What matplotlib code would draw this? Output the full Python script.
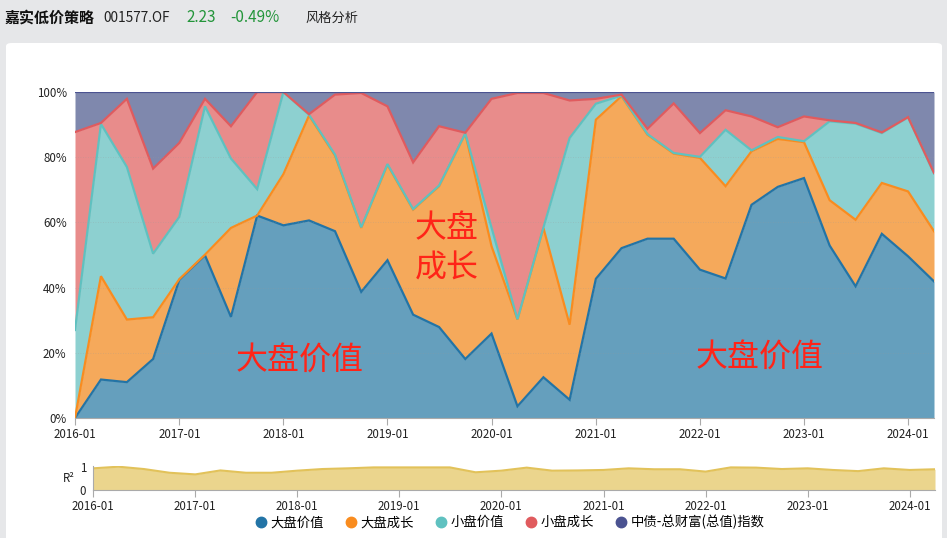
import numpy as np
import pandas as pd
import matplotlib
matplotlib.use("Agg")
import matplotlib.pyplot as plt
import matplotlib.dates as mdates
from matplotlib.lines import Line2D
from matplotlib.patches import FancyBboxPatch

plt.rcParams["font.family"] = ["Noto Sans CJK SC", "DejaVu Sans"]

# ---- data (quarterly style weights, %) ----
dates = pd.date_range("2016-01-01", periods=34, freq="QS")
series_names = ["大盘价值", "大盘成长", "小盘价值", "小盘成长", "中债-总财富(总值)指数"]

large_value = [0.0, 11.8, 11.0, 18.1, 42.4, 49.9, 31.0, 62.1, 59.1, 60.6, 57.3, 38.7,
               48.4, 31.7, 27.9, 18.1, 25.9, 3.6, 12.5, 5.6, 42.7, 52.1, 55.0, 55.0,
               45.5, 42.8, 65.4, 70.9, 73.6, 52.9, 40.4, 56.5, 49.6, 41.9]
large_growth = [0.0, 31.7, 19.2, 12.8, 0.2, 0.2, 27.3, 0.0, 15.7, 32.2, 23.2, 19.6,
                29.3, 32.2, 43.2, 69.1, 26.8, 26.6, 45.8, 23.0, 48.8, 46.6, 31.9, 26.1,
                34.3, 28.3, 16.4, 14.7, 11.0, 13.9, 20.4, 15.6, 19.9, 15.4]
small_value = [27.0, 46.7, 46.8, 19.5, 19.1, 45.5, 21.3, 8.1, 25.2, 0.2, 0.3, 0.2,
               0.2, 0.2, 0.2, 0.1, 5.7, 0.1, 0.1, 57.3, 4.9, 0.2, 0.2, 0.2,
               0.3, 17.3, 0.3, 0.6, 0.3, 24.2, 29.5, 15.3, 22.7, 17.7]
small_growth = [60.7, 0.3, 20.9, 26.1, 22.7, 2.3, 9.9, 29.8, 0.0, 0.2, 18.4, 41.2,
                17.7, 14.3, 18.2, 0.2, 39.5, 69.4, 41.3, 11.5, 1.5, 0.3, 1.6, 15.2,
                7.3, 6.0, 10.4, 3.0, 7.6, 0.3, 0.2, 0.2, 0.1, 0.2]
bond_index = [12.3, 9.5, 2.1, 23.5, 15.6, 2.1, 10.5, 0.0, 0.0, 6.8, 0.8, 0.3,
              4.4, 21.6, 10.5, 12.5, 2.1, 0.3, 0.3, 2.6, 2.1, 0.8, 11.3, 3.5,
              12.6, 5.6, 7.5, 10.8, 7.5, 8.7, 9.5, 12.4, 7.7, 24.8]

r_squared = [0.93, 1.00, 0.90, 0.74, 0.67, 0.84, 0.74, 0.74, 0.83, 0.90, 0.93, 0.97,
             0.97, 0.97, 0.97, 0.76, 0.83, 0.96, 0.83, 0.84, 0.86, 0.93, 0.89, 0.89,
             0.79, 0.97, 0.96, 0.90, 0.93, 0.86, 0.81, 0.93, 0.86, 0.89]

line_colors = ["#2374a6", "#f98c1f", "#5fc1c0", "#e05b5e", "#4b5391"]
fill_colors = ["#659fbd", "#f5a95b", "#8dd0d0", "#e88c8b", "#7f88ad"]

W, H = 947, 538
fig = plt.figure(figsize=(W / 100, H / 100), dpi=100)
fig.patch.set_facecolor("#e6e7e9")


def fx(x):
    return x / W


def fy(y):
    return 1 - y / H


# white card (behind the axes)
fig.patches.append(FancyBboxPatch((fx(6), fy(545)), fx(936), (545 - 43) / H,
                                  boxstyle="round,pad=0,rounding_size=0.006",
                                  transform=fig.transFigure, facecolor="white",
                                  edgecolor="none", zorder=-5))

# header
fig.text(fx(5), fy(18), "嘉实低价策略", fontsize=10.8, fontweight="bold",
         va="center", ha="left", color="#111111")
fig.text(fx(103), fy(18), "001577.OF", fontsize=9.8, va="center", ha="left", color="#222222")
fig.text(fx(186), fy(18), "2.23", fontsize=11, va="center", ha="left", color="#23953a")
fig.text(fx(230), fy(18), "-0.49%", fontsize=11, va="center", ha="left", color="#23953a")
fig.text(fx(305), fy(18), "风格分析", fontsize=9.5, va="center", ha="left", color="#222222")

# ---- main stacked area ----
ax = fig.add_axes([fx(75), fy(418), fx(934) - fx(75), (418 - 92) / H])
ax.set_zorder(2)
values = np.array([large_value, large_growth, small_value, small_growth, bond_index])
cum = np.cumsum(values, axis=0)
lower = np.zeros(len(dates))
for i in range(len(series_names)):
    ax.fill_between(dates, lower, cum[i], color=fill_colors[i], lw=0, zorder=1 + i)
    lower = cum[i]
for i in range(len(series_names)):
    ax.plot(dates, cum[i], color=line_colors[i], lw=1.6, zorder=10 + i,
            solid_joinstyle="miter")

ax.set_xlim(dates[0], dates[-1])
ax.set_ylim(0, 100)
ax.set_yticks([0, 20, 40, 60, 80, 100])
ax.set_yticklabels([f"{v}%" for v in range(0, 101, 20)])
for yv in [20, 40, 60, 80]:
    ax.axhline(yv, color="#999999", lw=0.6, ls=(0, (1, 2)), alpha=0.35, zorder=20)
ax.xaxis.set_major_locator(mdates.YearLocator())
ax.xaxis.set_major_formatter(mdates.DateFormatter("%Y-%m"))
ax.tick_params(axis="y", length=0, labelsize=8.3, colors="#222222", pad=6)
ax.tick_params(axis="x", length=5, color="#aaaaaa", labelsize=8.3, labelcolor="#222222", pad=2)
for s in ["top", "right", "left"]:
    ax.spines[s].set_visible(False)
ax.spines["bottom"].set_color("#aaaaaa")

# annotations
red = "#ff2418"
ax.text(0.262, 0.175, "大盘价值", transform=ax.transAxes, fontsize=23, color=red,
        ha="center", va="center", zorder=30)
ax.text(0.433, 0.52, "大盘\n成长", transform=ax.transAxes, fontsize=23, color=red,
        ha="center", va="center", linespacing=1.35, zorder=30)
ax.text(0.797, 0.185, "大盘价值", transform=ax.transAxes, fontsize=23, color=red,
        ha="center", va="center", zorder=30)

# ---- R² panel ----
ax2 = fig.add_axes([fx(93), fy(490), fx(935) - fx(93), (490 - 466) / H])
ax2.set_zorder(2)
ax2.fill_between(dates, 0, r_squared, color="#ebd58d", lw=0)
ax2.plot(dates, r_squared, color="#e2c25a", lw=1.5)
ax2.set_xlim(dates[0], dates[-1])
ax2.set_ylim(0, 1.03)
ax2.set_yticks([0, 1])
ax2.set_yticklabels(["0", "1"])
ax2.set_ylabel("R²", rotation=0, fontsize=8.3, labelpad=8, va="center", color="#222222")
ax2.xaxis.set_major_locator(mdates.YearLocator())
ax2.xaxis.set_major_formatter(mdates.DateFormatter("%Y-%m"))
ax2.tick_params(axis="y", length=0, labelsize=8.3, colors="#222222", pad=5)
ax2.tick_params(axis="x", length=5, color="#aaaaaa", labelsize=8.3, labelcolor="#222222", pad=2)
for s in ["top", "right"]:
    ax2.spines[s].set_visible(False)
ax2.spines["bottom"].set_color("#aaaaaa")
ax2.spines["left"].set_color("#aaaaaa")

# legend
handles = [Line2D([], [], marker="o", ls="none", markersize=7.5,
                  markerfacecolor=c, markeredgecolor=c) for c in line_colors]
fig.legend(handles, series_names, loc="center", bbox_to_anchor=(fx(510), fy(522)),
           ncol=5, frameon=False, fontsize=9.6, handletextpad=0.3, columnspacing=1.65,
           handlelength=0.8, borderaxespad=0)

fig.savefig("out.png", dpi=100, facecolor=fig.get_facecolor())
